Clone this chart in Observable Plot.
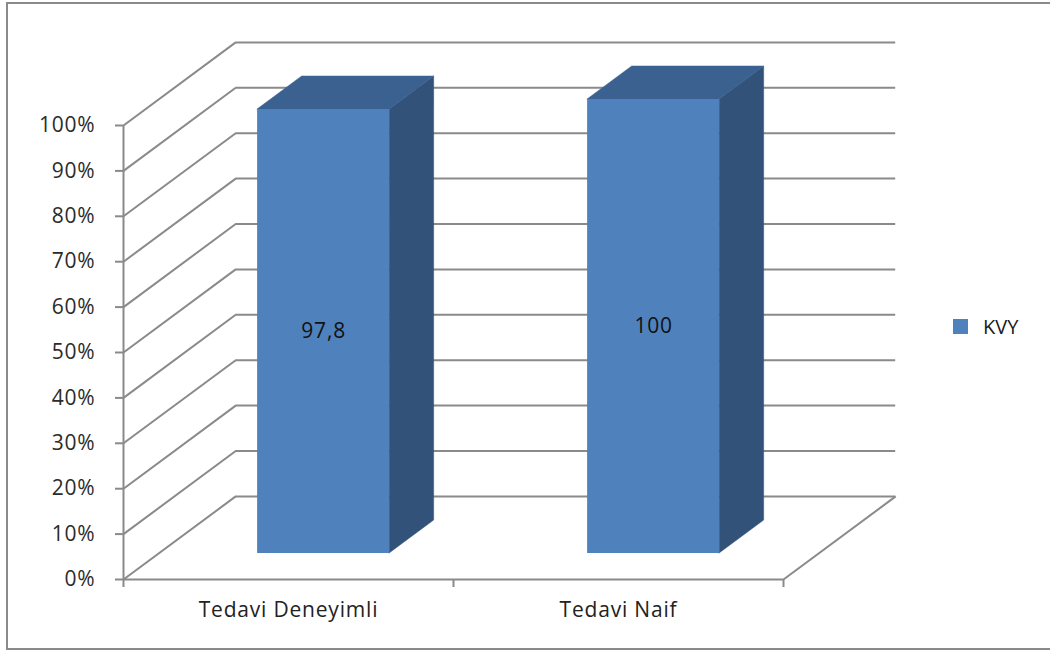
<!DOCTYPE html>
<html>
<head>
<meta charset="utf-8">
<script src="https://cdn.jsdelivr.net/npm/d3@7"></script>
<script src="https://cdn.jsdelivr.net/npm/@observablehq/plot@0.6"></script>
<style>
  body { margin: 0; background: #fff; }
  #chart { position: relative; width: 1050px; height: 652px; overflow: hidden; font-family: "Open Sans", sans-serif; }
  #frame { position: absolute; left: 6px; top: 2px; width: 1200px; height: 648px; box-sizing: border-box; border: 2px solid #8a8a8a; }
  #plot { position: absolute; left: 0; top: 0; }
  #plot svg text { letter-spacing: 0.8px; }
  #legend { position: absolute; left: 953px; top: 313px; display: flex; align-items: center; gap: 15px; font-size: 20px; color: #1a1a1a; }
  #legend .swatch { width: 15px; height: 15px; }
</style>
</head>
<body>
<div id="chart">
  <div id="frame"></div>
  <div id="plot"></div>
  <div id="legend"></div>
</div>
<script>
// Share of patients per treatment group (KVY series)
const categories = ["Tedavi Deneyimli", "Tedavi Naif"];
const values = [97.8, 100];
const valueLabels = ["97,8", "100"];
const seriesName = "KVY";
const yTicks = [0, 10, 20, 30, 40, 50, 60, 70, 80, 90, 100];
const yTickLabels = ["0%", "10%", "20%", "30%", "40%", "50%", "60%", "70%", "80%", "90%", "100%"];

// Colours
const FRONT = "#4f81bd";
const TOP = "#3b6190";
const SIDE = "#32527a";
const GRID = "#8a8a8a";

// Oblique projection: offset of the back wall from the front plane,
// in category units (x) and percentage points (y).
const DX = 0.34;
const DY = 18.3;
// Bar geometry: half width (category units) and depth of its front/back faces (0 = front, 1 = back wall)
const HALF = 0.2;
const T_FRONT = 0.313;
const T_BACK = 0.71;

const bars = categories.map((c, i) => ({c, i, v: values[i], label: valueLabels[i]}));
const xl = d => d.i + 0.5 - HALF;
const xr = d => d.i + 0.5 + HALF;

const topFace = bars.flatMap(d => [T_FRONT, T_BACK].map(t => ({
  i: d.i, y: d.v + t * DY, x1: xl(d) + t * DX, x2: xr(d) + t * DX
})));
const sideFace = bars.flatMap(d => [T_FRONT, T_BACK].map(t => ({
  i: d.i, x: xr(d) + t * DX, y1: t * DY, y2: d.v + t * DY
})));

const plot = Plot.plot({
  width: 1050,
  height: 652,
  marginLeft: 123,
  marginRight: 267,
  marginTop: 125,
  marginBottom: 73,
  style: {fontFamily: "'Open Sans', sans-serif", background: "transparent"},
  x: {type: "linear", domain: [0, 2], axis: null},
  y: {type: "linear", domain: [0, 100], axis: null},
  marks: [
    // back wall gridlines
    Plot.ruleY(yTicks, {y: d => d + DY, x1: () => DX, x2: () => 2 + DX, stroke: GRID, strokeWidth: 2}),
    // side wall diagonals
    Plot.link(yTicks, {x1: () => 0, y1: d => d, x2: () => DX, y2: d => d + DY, stroke: GRID, strokeWidth: 2}),
    // floor edges
    Plot.ruleY([0], {x1: () => 0, x2: () => 2, stroke: GRID, strokeWidth: 2}),
    Plot.link([0], {x1: () => 2, y1: () => 0, x2: () => 2 + DX, y2: () => DY, stroke: GRID, strokeWidth: 2}),
    // front value axis line
    Plot.ruleX([0], {y1: () => 0, y2: () => 100, stroke: GRID, strokeWidth: 2}),
    Plot.axisY({
      ticks: yTicks, tickFormat: d => yTickLabels[yTicks.indexOf(d)],
      tickSize: 8, tickPadding: 20, stroke: GRID, strokeWidth: 2,
      fill: "#2b2b2b", fontSize: 21, label: null
    }),
    Plot.axisX({
      ticks: [0, 1, 2], tickFormat: () => "", tickSize: 8,
      stroke: GRID, strokeWidth: 2, label: null
    }),
    Plot.text(categories, {
      x: (d, i) => i + 0.5, y: () => 0, text: d => d, dy: 31,
      lineAnchor: "middle", fontSize: 21, fill: "#222"
    }),
    // 3D bars: side, top, front
    Plot.areaY(sideFace, {x: "x", y1: "y1", y2: "y2", z: "i", fill: SIDE, stroke: SIDE, strokeWidth: 0.5}),
    Plot.areaX(topFace, {y: "y", x1: "x1", x2: "x2", z: "i", fill: TOP, stroke: TOP, strokeWidth: 0.5}),
    Plot.rect(bars, {
      x1: d => xl(d) + T_FRONT * DX, x2: d => xr(d) + T_FRONT * DX,
      y1: () => T_FRONT * DY, y2: d => d.v + T_FRONT * DY, fill: FRONT
    }),
    Plot.text(bars, {
      x: d => d.i + 0.5 + T_FRONT * DX, y: d => d.v / 2 + T_FRONT * DY,
      text: "label", fontSize: 21, fill: "#111", lineAnchor: "middle"
    })
  ]
});
document.getElementById("plot").append(plot);

const legend = document.getElementById("legend");
const sw = document.createElement("div");
sw.className = "swatch";
sw.style.background = FRONT;
const lab = document.createElement("span");
lab.textContent = seriesName;
legend.append(sw, lab);
</script>
</body>
</html>
